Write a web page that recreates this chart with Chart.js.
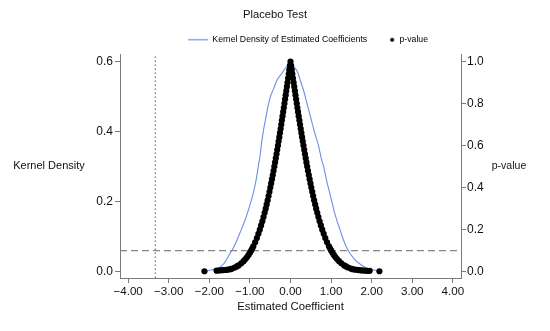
<!DOCTYPE html>
<html>
<head>
<meta charset="utf-8">
<script src="https://cdn.jsdelivr.net/npm/chart.js@4"></script>
<style>
  body { margin: 0; background: #fff; }
  #wrap { width: 550px; height: 331px; }
</style>
</head>
<body>
<div id="wrap"><canvas id="chart"></canvas></div>
<script>
const chartTitle = "Placebo Test";
const densityLabel = "Kernel Density of Estimated Coefficients";
const pLabel = "p-value";
const xTitle = "Estimated Coefficient";
const leftTitle = "Kernel Density";
const rightTitle = "p-value";

const xTicks = [-4, -3, -2, -1, 0, 1, 2, 3, 4];
const densityTicks = [0, 0.2, 0.4, 0.6];
const pTicks = [0, 0.2, 0.4, 0.6, 0.8, 1.0];

// kernel density of the placebo estimates
const densityX = [-2.10, -1.95, -1.78, -1.65, -1.49, -1.40, -1.32, -1.22, -1.12, -1.00, -0.92, -0.85, -0.79, -0.75,
    -0.71, -0.67, -0.63, -0.55, -0.50, -0.42, -0.34, -0.26, -0.20, -0.135, -0.06, 0.03, 0.11, 0.18, 0.23,
    0.315, 0.40, 0.52, 0.60, 0.69, 0.77, 0.81, 0.90, 0.97, 1.01, 1.07, 1.14, 1.22, 1.30, 1.38, 1.47,
    1.58, 1.71, 1.85, 2.00, 2.16];
const densityY = [0.002, 0.005, 0.010, 0.022, 0.052, 0.070, 0.090, 0.118, 0.147, 0.190, 0.223, 0.260, 0.303, 0.330,
    0.370, 0.400, 0.426, 0.474, 0.498, 0.521, 0.545, 0.559, 0.568, 0.580, 0.588, 0.590, 0.582, 0.568, 0.550,
    0.520, 0.483, 0.430, 0.395, 0.360, 0.318, 0.303, 0.255, 0.223, 0.204, 0.175, 0.147, 0.120, 0.092, 0.070, 0.052,
    0.035, 0.022, 0.012, 0.006, 0.002];

// estimated coefficients and their p-values
const coefX = [-2.12, -1.82, -1.75, -1.68, -1.63, -1.58, -1.53, -1.482, -1.435, -1.373, -1.322, -1.28, -1.212, -1.156,
    -1.11, -1.069, -1.033, -1.0, -0.97, -0.943, -0.917, -0.871, -0.829, -0.791, -0.756, -0.724, -0.693, -0.665,
    -0.637, -0.611, -0.587, -0.563, -0.54, -0.518, -0.497, -0.476, -0.456, -0.436, -0.417, -0.398, -0.38, -0.362,
    -0.344, -0.327, -0.309, -0.293, -0.276, -0.26, -0.243, -0.227, -0.212, -0.196, -0.18, -0.165, -0.149, -0.134,
    -0.119, -0.104, -0.089, -0.074, -0.059, -0.044, -0.03, -0.015, 0.0,
    0.015, 0.031, 0.046, 0.061, 0.077, 0.092, 0.108, 0.123, 0.139, 0.155, 0.17, 0.186, 0.202, 0.219, 0.235, 0.252,
    0.268, 0.285, 0.302, 0.32, 0.338, 0.356, 0.374, 0.392, 0.411, 0.431, 0.451, 0.471, 0.492, 0.513, 0.536, 0.558,
    0.582, 0.607, 0.632, 0.659, 0.687, 0.717, 0.748, 0.782, 0.818, 0.857, 0.90, 0.948, 0.975, 1.003, 1.034, 1.068,
    1.105, 1.147, 1.196, 1.253, 1.324, 1.367, 1.419, 1.484, 1.532, 1.58, 1.64, 1.70, 1.76, 1.83, 1.89, 1.95, 2.19];
const pValues = [0.002, 0.005, 0.006, 0.007, 0.008, 0.009, 0.010, 0.012, 0.015, 0.02, 0.025, 0.03, 0.04, 0.05,
    0.06, 0.07, 0.08, 0.09, 0.10, 0.11, 0.12, 0.14, 0.16, 0.18, 0.20, 0.22, 0.24, 0.26,
    0.28, 0.30, 0.32, 0.34, 0.36, 0.38, 0.40, 0.42, 0.44, 0.46, 0.48, 0.50, 0.52, 0.54,
    0.56, 0.58, 0.60, 0.62, 0.64, 0.66, 0.68, 0.70, 0.72, 0.74, 0.76, 0.78, 0.80, 0.82,
    0.84, 0.86, 0.88, 0.90, 0.92, 0.94, 0.96, 0.98, 1.0,
    0.98, 0.96, 0.94, 0.92, 0.90, 0.88, 0.86, 0.84, 0.82, 0.80, 0.78, 0.76, 0.74, 0.72, 0.70, 0.68,
    0.66, 0.64, 0.62, 0.60, 0.58, 0.56, 0.54, 0.52, 0.50, 0.48, 0.46, 0.44, 0.42, 0.40, 0.38, 0.36,
    0.34, 0.32, 0.30, 0.28, 0.26, 0.24, 0.22, 0.20, 0.18, 0.16, 0.14, 0.12, 0.11, 0.10, 0.09, 0.08,
    0.07, 0.06, 0.05, 0.04, 0.03, 0.025, 0.02, 0.015, 0.012, 0.010, 0.009, 0.007, 0.006, 0.005, 0.004, 0.004, 0.002];

const trueEstimate = -3.33;   // actual coefficient (dotted line)
const pCutoff = 0.1;          // significance line

const xMin = -4.2, xMax = 4.2;
const dMin = -0.018, dMax = 0.621;
const pMin = -0.03, pMax = 1.035;

const FONT = '"Liberation Sans", Arial, Helvetica, sans-serif';
const AXIS_GREY = "#7a7a7a";
const BLUE = "#6f8fe3";

function fmtCoef(v) {
    return (v < 0 ? "\u2212" : "") + Math.abs(v).toFixed(2);
}

// little images for the legend keys
function legendLine() {
    const c = document.createElement("canvas");
    c.width = 20; c.height = 3;
    const g = c.getContext("2d");
    g.strokeStyle = BLUE; g.lineWidth = 1.2;
    g.beginPath(); g.moveTo(0, 1.5); g.lineTo(20, 1.5); g.stroke();
    return c;
}
function legendDot() {
    const c = document.createElement("canvas");
    c.width = 20; c.height = 6;
    const g = c.getContext("2d");
    g.fillStyle = "#000";
    g.beginPath(); g.arc(17, 3, 2, 0, Math.PI * 2); g.fill();
    return c;
}

const sideTitles = {
    id: "sideTitles",
    afterLayout(chart) {
        chart.legend.left += 33;
        chart.legend.right += 33;
    },
    afterDraw(chart) {
        const { ctx, chartArea, scales } = chart;
        const midY = (chartArea.top + chartArea.bottom) / 2;
        ctx.save();
        ctx.fillStyle = "#111";
        ctx.textAlign = "center";
        ctx.textBaseline = "middle";
        ctx.font = "11px " + FONT;
        ctx.fillText(leftTitle, scales.y.left + 49, midY);
        ctx.font = "10.5px " + FONT;
        ctx.fillText(rightTitle, scales.yP.left + 48, midY);
        ctx.restore();
    }
};

new Chart(document.getElementById("chart"), {
    type: "line",
    data: {
        datasets: [
            {
                label: pLabel,
                data: coefX.map((x, i) => ({ x: x, y: pValues[i] })),
                yAxisID: "yP",
                showLine: false,
                pointRadius: 3.1,
                pointBorderWidth: 0,
                pointBackgroundColor: "#000",
                order: 1
            },
            {
                label: densityLabel,
                data: densityX.map((x, i) => ({ x: x, y: densityY[i] })),
                yAxisID: "y",
                borderColor: BLUE,
                borderWidth: 1.1,
                pointRadius: 0,
                cubicInterpolationMode: "monotone",
                order: 2
            },
            {
                label: "cutoff",
                data: [{ x: xMin, y: pCutoff }, { x: xMax, y: pCutoff }],
                yAxisID: "yP",
                borderColor: "#858585",
                borderWidth: 1.2,
                borderDash: [7, 4],
                pointRadius: 0,
                order: 3
            },
            {
                label: "actual",
                data: [{ x: trueEstimate, y: pMin }, { x: trueEstimate, y: pMax }],
                yAxisID: "yP",
                borderColor: "#808080",
                borderWidth: 1.3,
                borderDash: [1.5, 2.5],
                pointRadius: 0,
                order: 4
            }
        ]
    },
    options: {
        responsive: true,
        maintainAspectRatio: false,
        animation: false,
        layout: { padding: 0 },
        plugins: {
            title: {
                display: true,
                text: chartTitle,
                color: "#111",
                font: { family: FONT, size: 11.2, weight: "normal" },
                padding: { top: 8, bottom: 6 }
            },
            legend: {
                display: true,
                position: "top",
                labels: {
                    usePointStyle: true,
                    pointStyleWidth: 20,
                    padding: 8,
                    color: "#111",
                    font: { family: FONT, size: 8.7 },
                    generateLabels: () => [
                        { text: densityLabel, pointStyle: legendLine(), fillStyle: BLUE, strokeStyle: BLUE, lineWidth: 0, datasetIndex: 1 },
                        { text: pLabel, pointStyle: legendDot(), fillStyle: "#000", strokeStyle: "#000", lineWidth: 0, datasetIndex: 0 }
                    ]
                }
            },
            tooltip: { enabled: false }
        },
        scales: {
            x: {
                type: "linear",
                min: xMin,
                max: xMax,
                afterBuildTicks: s => { s.ticks = xTicks.map(v => ({ value: v })); },
                afterFit: s => { s.height = 53; },
                ticks: {
                    callback: v => fmtCoef(v),
                    color: "#111",
                    padding: 2,
                    maxRotation: 0,
                    font: { family: FONT, size: 11.6 }
                },
                grid: { drawOnChartArea: false, tickLength: 5, color: AXIS_GREY },
                border: { color: AXIS_GREY },
                title: {
                    display: true,
                    text: xTitle,
                    color: "#111",
                    font: { family: FONT, size: 11.3 },
                    padding: { top: 0, bottom: 17.5 }
                }
            },
            y: {
                position: "left",
                min: dMin,
                max: dMax,
                afterBuildTicks: s => { s.ticks = densityTicks.map(v => ({ value: v })); },
                afterFit: s => { s.width = 120; },
                ticks: {
                    callback: v => v.toFixed(1),
                    color: "#111",
                    padding: 2,
                    font: { family: FONT, size: 12 }
                },
                grid: { drawOnChartArea: false, tickLength: 5, color: AXIS_GREY },
                border: { color: AXIS_GREY }
            },
            yP: {
                position: "right",
                min: pMin,
                max: pMax,
                afterBuildTicks: s => { s.ticks = pTicks.map(v => ({ value: v })); },
                afterFit: s => { s.width = 89; },
                ticks: {
                    callback: v => v.toFixed(1),
                    color: "#111",
                    padding: 1,
                    font: { family: FONT, size: 12 }
                },
                grid: { drawOnChartArea: false, tickLength: 5, color: AXIS_GREY },
                border: { color: AXIS_GREY }
            }
        }
    },
    plugins: [sideTitles]
});
</script>
</body>
</html>
